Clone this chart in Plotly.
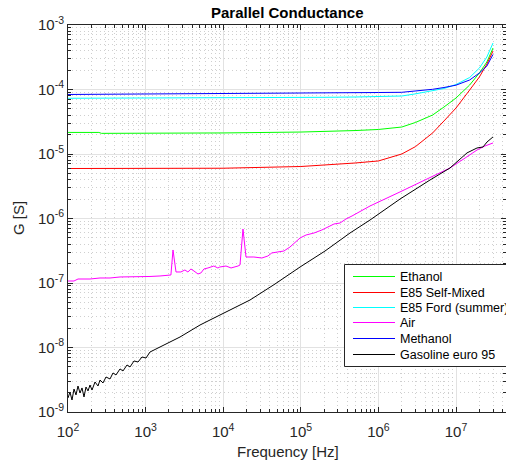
import plotly.graph_objects as go

# ---------------- data ----------------
freq_smooth = [1e2, 2e2, 5e2, 1e3, 1e4, 1e5, 2e5, 5e5, 1e6, 2e6, 3e6, 5e6, 7e6,
               1e7, 1.5e7, 2e7, 2.5e7, 3e7]

freq_ethanol = [1e2, 2.5e2, 2.7e2, 1e3, 1e4, 1e5, 2e5, 5e5, 1e6, 2e6, 3e6, 5e6, 7e6,
                1e7, 1.5e7, 2e7, 2.5e7, 3e7]
G_ethanol = [2.16e-5, 2.16e-5, 2.09e-5, 2.09e-5, 2.12e-5, 2.19e-5, 2.23e-5, 2.31e-5,
             2.40e-5, 2.62e-5, 3.08e-5, 4.02e-5, 5.35e-5, 7.38e-5, 1.174e-4, 1.80e-4,
             2.67e-4, 4.40e-4]

G_e85_self = [5.96e-6, 5.97e-6, 5.98e-6, 5.98e-6, 6.02e-6, 6.40e-6, 6.70e-6, 7.25e-6,
              7.80e-6, 1.00e-5, 1.30e-5, 2.12e-5, 3.25e-5, 5.16e-5, 9.82e-5, 1.563e-4,
              2.48e-4, 3.95e-4]

G_e85_ford = [7.31e-5, 7.32e-5, 7.33e-5, 7.33e-5, 7.38e-5, 7.49e-5, 7.57e-5, 7.65e-5,
              7.76e-5, 7.93e-5, 8.56e-5, 9.48e-5, 1.036e-4, 1.195e-4, 1.535e-4, 2.15e-4,
              3.19e-4, 5.26e-4]

G_methanol = [8.37e-5, 8.40e-5, 8.47e-5, 8.51e-5, 8.67e-5, 8.83e-5, 8.89e-5, 8.95e-5,
              8.98e-5, 9.05e-5, 9.38e-5, 1.007e-4, 1.074e-4, 1.167e-4, 1.404e-4, 1.80e-4,
              2.31e-4, 3.50e-4]

freq_air = [100, 119.5, 134.5, 192, 258.5, 348, 468, 630, 847, 1139, 1532, 2120, 2255,
            2465, 2850, 3210, 3510, 3840, 4200, 4730, 5160, 5650, 6360, 7160, 7580, 8530,
            9050, 10870, 12620, 15520, 16460, 17990, 19670, 24860, 31460, 37600, 42300,
            50600, 60500, 72500, 86700, 97800, 117000, 148000, 187000, 224000, 268000,
            320000, 382000, 457000, 577000, 780000, 1.897e6, 4.62e6, 8.37e6, 1.31e7,
            1.866e7, 2.36e7, 3.0e7]
G_air = [1.074e-7, 1.074e-7, 1.153e-7, 1.153e-7, 1.196e-7, 1.196e-7, 1.24e-7, 1.24e-7,
         1.24e-7, 1.262e-7, 1.285e-7, 1.331e-7, 3.25e-7, 1.482e-7, 1.482e-7, 1.592e-7,
         1.482e-7, 1.65e-7, 1.535e-7, 1.38e-7, 1.43e-7, 1.65e-7, 1.71e-7, 1.77e-7,
         1.835e-7, 1.71e-7, 1.77e-7, 1.835e-7, 1.71e-7, 1.835e-7, 1.90e-7, 6.87e-7,
         2.53e-7, 2.53e-7, 2.44e-7, 2.62e-7, 2.92e-7, 3.03e-7, 3.13e-7, 3.61e-7,
         4.32e-7, 4.99e-7, 5.55e-7, 5.96e-7, 6.64e-7, 7.38e-7, 8.22e-7, 8.51e-7,
         9.82e-7, 1.094e-6, 1.262e-6, 1.563e-6, 2.58e-6, 4.25e-6, 6.07e-6, 8.67e-6,
         1.153e-5, 1.33e-5, 1.482e-5]

freq_gas = [100, 106, 112.6, 119.5, 126.8, 134.5, 142.8, 151.5, 160.8, 170.6, 181.1,
            192.1, 203.9, 222.8, 243.6, 258.5, 282.5, 308.9, 347.7, 380.2, 415.6, 468,
            511.5, 575.9, 629.6, 708.8, 798, 898.7, 1012, 1139, 1361, 1627, 2063, 2776,
            3735, 5024, 6761, 10870, 22150, 46500, 97800, 205000, 430500, 780000,
            1.897e6, 4.62e6, 8.37e6, 1.387e7, 1.866e7, 2.23e7, 2.51e7, 3.0e7]
G_gas = [1.65e-9, 2.04e-9, 1.535e-9, 2.27e-9, 1.84e-9, 2.53e-9, 1.97e-9, 2.36e-9,
         1.71e-9, 2.44e-9, 2.12e-9, 2.62e-9, 2.19e-9, 2.92e-9, 2.53e-9, 3.13e-9,
         2.82e-9, 3.49e-9, 3.25e-9, 4.03e-9, 3.75e-9, 4.65e-9, 4.33e-9, 5.36e-9,
         4.99e-9, 6.18e-9, 5.96e-9, 7.13e-9, 6.87e-9, 8.51e-9, 9.48e-9, 1.055e-8,
         1.216e-8, 1.455e-8, 1.80e-8, 2.23e-8, 2.67e-8, 3.55e-8, 5.45e-8, 9.64e-8,
         1.77e-7, 3.13e-7, 5.96e-7, 9.48e-7, 2.0e-6, 3.95e-6, 6.07e-6, 1.04e-5,
         1.24e-5, 1.285e-5, 1.535e-5, 1.84e-5]

x_decades = [2, 3, 4, 5, 6, 7]
y_decades = [-9, -8, -7, -6, -5, -4, -3]

series_names = ["Ethanol", "E85 Self-Mixed", "E85 Ford (summer)", "Air", "Methanol",
                "Gasoline euro 95"]
series_colors = ["#00ff00", "#ff0000", "#00ffff", "#ff00ff", "#0000ff", "#000000"]
series_x = [freq_ethanol, freq_smooth, freq_smooth, freq_air, freq_smooth, freq_gas]
series_y = [G_ethanol, G_e85_self, G_e85_ford, G_air, G_methanol, G_gas]

# ---------------- figure ----------------
FONT = "Liberation Sans, Arial, Helvetica, sans-serif"
AX = "#262626"
W, H = 506, 466
L, R, T, B = 68, 0, 25, 54
PW, PH = W - L - R, H - T - B


def px(xp):
    return (xp - L) / PW


def py(yp):
    return 1 - (yp - T) / PH


fig = go.Figure()
for name, fx, gy, col in zip(series_names, series_x, series_y, series_colors):
    fig.add_trace(go.Scatter(x=fx, y=gy, mode="lines", name=name, showlegend=False,
                             line=dict(color=col, width=1)))

xminor = [m * 10 ** d for d in range(2, 8) for m in range(2, 10)]
yminor = [m * 10 ** d for d in range(-9, -3) for m in range(2, 10)]

common = dict(
    type="log", showline=True, linecolor=AX, linewidth=1, mirror="allticks",
    ticks="inside", ticklen=5, tickcolor=AX, tickwidth=1,
    showgrid=True, gridcolor="#e2e2e2", gridwidth=1, zeroline=False,
    tickfont=dict(family=FONT, size=15, color=AX),
)
minor_common = dict(ticks="inside", ticklen=3, tickcolor=AX, showgrid=True,
                    gridcolor="#cfcfcf", griddash="1px,3px", gridwidth=1)

fig.update_xaxes(
    range=[2, 2 + PW / 77.6],
    tickvals=[10 ** d for d in x_decades],
    ticktext=["10<sup>%d</sup>" % d for d in x_decades],
    minor=dict(tickvals=xminor, **minor_common),
    ticklabelstandoff=6,
    **common,
)
fig.update_yaxes(
    range=[-9, -3],
    tickvals=[10 ** d for d in y_decades],
    ticktext=["10<sup>%d</sup>" % d for d in y_decades],
    minor=dict(tickvals=yminor, **minor_common),
    **common,
)

# legend box (drawn like MATLAB's: box, sample lines, labels)
shapes = [dict(type="rect", xref="paper", yref="paper", x0=px(344.5), x1=px(530),
               y0=py(366.5), y1=py(264.5), line=dict(color=AX, width=1),
               fillcolor="white", layer="above")]
annotations = []
row0, dy = 276, 15.5
for i, (name, col) in enumerate(zip(series_names, series_colors)):
    yy = round(row0 + i * dy) + 0.5
    shapes.append(dict(type="line", xref="paper", yref="paper", x0=px(353), x1=px(395),
                       y0=py(yy), y1=py(yy), line=dict(color=col, width=1),
                       layer="above"))
    annotations.append(dict(text=name, xref="paper", yref="paper", x=px(398), y=py(yy),
                            xanchor="left", yanchor="middle", showarrow=False,
                            font=dict(family=FONT, size=12.5, color="#000000")))

annotations += [
    dict(text="<b>Parallel Conductance</b>", xref="paper", yref="paper",
         x=0.5, y=py(12), xanchor="center", yanchor="middle",
         showarrow=False, font=dict(family=FONT, size=15, color="#000000")),
    dict(text="Frequency [Hz]", xref="paper", yref="paper",
         x=px(288), y=py(451), xanchor="center", yanchor="middle",
         showarrow=False, font=dict(family=FONT, size=15, color=AX)),
    dict(text="G [S]", xref="paper", yref="paper", textangle=-90,
         x=px(18), y=py(218), xanchor="center", yanchor="middle",
         showarrow=False, font=dict(family=FONT, size=15, color=AX)),
]

fig.update_layout(
    width=W, height=H,
    margin=dict(l=L, r=R, t=T, b=B),
    paper_bgcolor="white", plot_bgcolor="white",
    showlegend=False,
    shapes=shapes,
    annotations=annotations,
)

fig.write_html("out.html")
